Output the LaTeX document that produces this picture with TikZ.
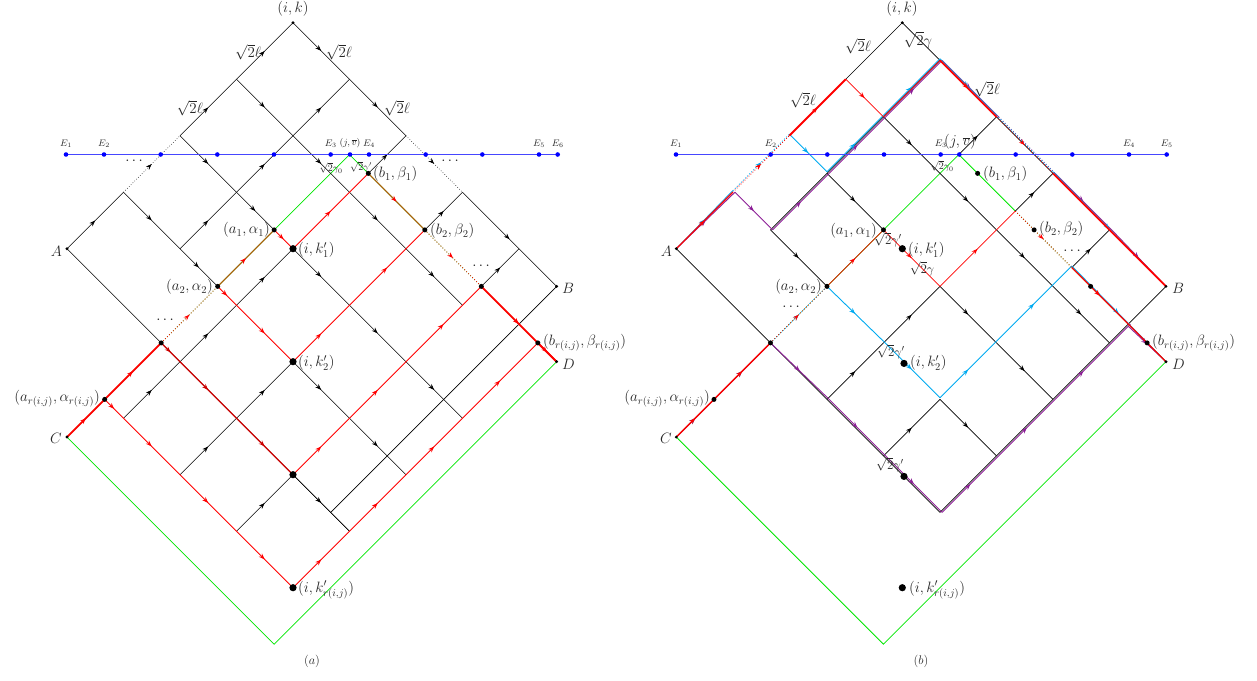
\RequirePackage{fix-cm}
\documentclass[tikz,border=0pt]{standalone}
\usetikzlibrary{arrows.meta,decorations.markings}
\definecolor{grn}{RGB}{0,230,0}
\definecolor{brn}{RGB}{175,90,10}
\definecolor{cy}{RGB}{0,170,240}
\definecolor{pu}{RGB}{140,30,150}
\definecolor{eblue}{RGB}{70,70,255}
\tikzset{
 bl/.style={black,line width=0.6pt},
 mk/.style={postaction={decorate,decoration={markings,mark=at position 0.5 with {\arrow{Stealth[length=6pt,width=4.5pt,inset=2pt]}}}}},
 mkr/.style={postaction={decorate,decoration={markings,mark=at position 0.5 with {\arrow[red]{Stealth[length=6pt,width=4.5pt,inset=2pt]}}}}},
 rd/.style={red,line width=0.8pt},
 rdm/.style={red,line width=1.3pt},
 rdd/.style={red!80!black,line width=1.2pt},
 rdk/.style={red,line width=1.8pt},
 gr/.style={grn,line width=0.8pt},
 brw/.style={brn,line width=1pt},
 cyl/.style={cy,line width=0.9pt,shift={(0pt,1.6pt)}},
 pul/.style={pu,line width=0.9pt,shift={(2.2pt,0pt)}},
 pud/.style={pu,line width=0.9pt,shift={(0pt,-2.2pt)}},
 grs/.style={grn,line width=0.8pt,shift={(-0.7pt,0.7pt)}},
 lab/.style={text=black!85,font=\fontsize{15}{18}\selectfont,inner sep=1pt},
 mlab/.style={text=black!85,font=\fontsize{13}{15}\selectfont,inner sep=0.5pt},
 slab/.style={text=black!85,font=\fontsize{10}{12}\selectfont,inner sep=1pt},
 clab/.style={text=black!85,font=\fontsize{12.5}{14}\selectfont,inner sep=1pt},
 elab/.style={text=black!85,font=\fontsize{9.5}{11}\selectfont,inner sep=1pt},
}
\begin{document}
\begin{tikzpicture}[x=1pt,y=1pt]
\useasboundingbox (0,0) rectangle (1257,-680);

% ===================== LEFT (a) =====================
\begin{scope}[shift={(293pt,-22.7pt)},x={(56.5pt,-56.5pt)},y={(-56.5pt,-56.5pt)}]
\coordinate (Lik) at (0,0);
\coordinate (LA) at (0,4);
\coordinate (LB) at (4.667,0);
\coordinate (LC) at (1.667,5.667);
\coordinate (LD) at (5.333,0.667);
\coordinate (LE) at (5.333,5.667);
\coordinate (Ljv) at (1.667,0.667);
\coordinate (La1) at (1.667,2);
\coordinate (La2) at (1.667,3);
\coordinate (La3) at (1.667,4);
\coordinate (Lar) at (1.667,5);
\coordinate (Lb1) at (2,0.667);
\coordinate (Lb2) at (3,0.667);
\coordinate (Lb3) at (4,0.667);
\coordinate (Lbr) at (5,0.667);
\coordinate (Lk1) at (2,2);
\coordinate (Lk2) at (3,3);
\coordinate (Lk3) at (4,4);
\coordinate (Lkr) at (5,5);
% green
\draw[gr] (LC) -- (La3);
\draw[gr,dotted] (La3) -- (La2);
\draw[gr] (La2) -- (Ljv) -- (Lb2);
\draw[gr,dotted] (Lb2) -- (Lb3);
\draw[gr] (Lb3) -- (LD) -- (LE) -- (LC);
% black lattice
\draw[bl,mk] (LA) -- (0,3);
\draw[bl,mk,dotted] (0,3) -- (0,2);
\draw[bl,mk] (0,2) -- (0,1);
\draw[bl,mk] (0,1) -- (Lik);
\foreach \a/\b in {3/2,2/1,1/0} \draw[bl,mk] (1,\a) -- (1,\b);
\foreach \a/\b in {5/4,4/3,3/2} \draw[bl,mk] (2,\a) -- (2,\b);
\foreach \a/\b in {5/4,4/3} \draw[bl,mk] (3,\a) -- (3,\b);
\draw[bl,mk] (4,5) -- (4,4);
\draw[bl,mk] (Lb1) -- (2,0);
\draw[bl,mk] (Lb2) -- (3,0);
\draw[bl,mk] (Lb3) -- (4,0);
\draw[bl] (4.667,4) -- (LB);
\draw[bl,mk] (Lik) -- (1,0);
\draw[bl,mk] (1,0) -- (2,0);
\draw[bl,mk,dotted] (2,0) -- (3,0);
\draw[bl,mk] (3,0) -- (LB);
\foreach \a/\b in {0/1,1/2,2/3,3/4} \draw[bl,mk] (\a,1) -- (\b,1);
\draw[bl,mk] (0,2) -- (1,2);
\draw[bl,mk] (1,2) -- (La1);
\foreach \a/\b in {2/3,3/4,4/5} \draw[bl,mk] (\a,2) -- (\b,2);
\draw[bl,mk] (0,3) -- (1,3);
\draw[bl,mk] (1,3) -- (La2);
\foreach \a/\b in {3/4,4/5} \draw[bl,mk] (\a,3) -- (\b,3);
\draw[bl] (LA) -- (5,4);
\draw[bl,mk] (4,4) -- (5,4);
% red
\draw[rdk,mk] (LC) -- (Lar);
\draw[rdk,mk] (Lar) -- (La3);
\draw[rd,mk,dotted] (La3) -- (La2);
\draw[brw,mkr] (La2) -- (La1);
\draw[brw,mkr] (Lb1) -- (Lb2);
\draw[rd,mk,dotted] (Lb2) -- (Lb3);
\draw[rdk,mk] (Lb3) -- (LD);
\draw[rdk,mk] (Lbr) -- (LD);
\draw[rd,mk] (La1) -- (Lk1);
\draw[rd,mk] (Lk1) -- (Lb1);
\draw[rd,mk] (La2) -- (2,3);
\draw[rd,mk] (2,3) -- (Lk2);
\draw[rd,mk] (Lk2) -- (3,2);
\draw[rd,mk] (3,2) -- (Lb2);
\draw[rdd,mk] (La3) -- (2,4);
\draw[rdd,mk] (2,4) -- (3,4);
\draw[rdd,mk] (3,4) -- (Lk3);
\draw[rd,mk] (Lk3) -- (4,3);
\draw[rd,mk] (4,3) -- (4,2);
\draw[rd,mk] (4,2) -- (Lb3);
\draw[rd,mk] (Lar) -- (2,5);
\draw[rd,mk] (2,5) -- (3,5);
\draw[rd,mk] (3,5) -- (4,5);
\draw[rd,mk] (4,5) -- (Lkr);
\draw[rd,mk] (Lkr) -- (5,4);
\draw[rd,mk] (5,4) -- (5,3);
\draw[rd,mk] (5,3) -- (5,2);
\draw[rd,mk] (5,2) -- (Lbr);
% dots
\foreach \p in {Lik,LA,LB,LC,LD} \fill (\p) circle[radius=1.6pt];
\foreach \p in {La1,La2,La3,Lar,Lb1,Lb2,Lb3,Lbr} \fill (\p) circle[radius=2.5pt];
\foreach \p in {Lk1,Lk2,Lk3,Lkr} \fill (\p) circle[radius=3.6pt];
\end{scope}

% E line left
\draw[eblue,line width=1.5pt] (66,-154.5) -- (557.7,-154.5);
\foreach \x in {66,104,160.7,217.3,274,330.7,350,369,425.7,482.3,539,557.7} \fill[blue] (\x,-154.5) circle[radius=2.3pt];
\node[elab] (lE1) at (66,-144) {$E_1$};
\node[elab] (lE2) at (104,-144) {$E_2$};
\node[elab] (lE3) at (330.7,-144) {$E_3$};
\node[elab] (ljv) at (350,-143) {$(j,\overline{v})$};
\node[elab] (lE4) at (369,-144) {$E_4$};
\node[elab] (lE5) at (539,-144) {$E_5$};
\node[elab] (lE6) at (557.7,-144) {$E_6$};
% labels left
\node[lab] (tLik) at (293,-9) {$(i,k)$};
\node[lab] (tl1) at (248,-52) {$\sqrt{2}\ell$};
\node[lab] (tl2) at (339,-52) {$\sqrt{2}\ell$};
\node[lab] (tl3) at (190,-108) {$\sqrt{2}\ell$};
\node[lab] (tl4) at (397,-108) {$\sqrt{2}\ell$};
\node[lab] (td1) at (134,-161) {$\cdots$};
\node[lab] (td2) at (450,-161) {$\cdots$};
\node[lab] (td3) at (165,-320) {$\cdots$};
\node[lab] (td4) at (481,-266) {$\cdots$};
\node[slab] (tg0) at (331,-168) {$\sqrt{2}\gamma_0$};
\node[slab] (tgp) at (361,-167) {$\sqrt{2}\gamma'$};
\node[lab,anchor=west] (tLb1) at (372,-174) {$(b_1,\beta_1)$};
\node[lab,anchor=east] (tLa1) at (271,-230) {$(a_1,\alpha_1)$};
\node[lab,anchor=west] (tLk1) at (297,-250) {$(i,k_1')$};
\node[lab,anchor=west] (tLb2) at (429,-231) {$(b_2,\beta_2)$};
\node[lab,anchor=east] (tLa2) at (214,-287) {$(a_2,\alpha_2)$};
\node[lab,anchor=west] (tLk2) at (297,-363) {$(i,k_2')$};
\node[lab,anchor=west] (tLbr) at (542,-343) {$(b_{r(i,j)},\beta_{r(i,j)})$};
\node[lab,anchor=east] (tLar) at (101,-399) {$(a_{r(i,j)},\alpha_{r(i,j)})$};
\node[lab,anchor=west] (tLkr) at (297,-590) {$(i,k'_{r(i,j)})$};
\node[lab,anchor=east] (tLA) at (63,-251) {$A$};
\node[lab,anchor=west] (tLB) at (561,-288) {$B$};
\node[lab,anchor=east] (tLC) at (63,-438) {$C$};
\node[lab,anchor=west] (tLD) at (561,-364) {$D$};
\node[clab] (tcapa) at (312,-661) {$(a)$};

% ===================== RIGHT (b) =====================
\begin{scope}[shift={(902.3pt,-22.7pt)},x={(56.5pt,-56.5pt)},y={(-56.5pt,-56.5pt)}]
\coordinate (Rik) at (0,0);
\coordinate (RA) at (0,4);
\coordinate (RB) at (4.667,0);
\coordinate (RC) at (1.667,5.667);
\coordinate (RD) at (5.333,0.667);
\coordinate (RE) at (5.333,5.667);
\coordinate (Rjv) at (1.667,0.667);
\coordinate (Ra1) at (1.667,2);
\coordinate (Ra2) at (1.667,3);
\coordinate (Ra3) at (1.667,4);
\coordinate (Rar) at (1.667,5);
\coordinate (Rb1) at (2,0.667);
\coordinate (Rb2) at (3,0.667);
\coordinate (Rb3) at (4,0.667);
\coordinate (Rbr) at (5,0.667);
\coordinate (Rk1) at (2,2);
\coordinate (Rk2) at (3.03,3);
\coordinate (Rk3) at (4.03,4);
\coordinate (Rkr) at (5,5);
% green
\draw[grs] (RC) -- (Ra3);
\draw[grs,dotted] (Ra3) -- (Ra2);
\draw[grs] (Ra2) -- (Ra1);
\draw[gr] (Ra1) -- (Rjv) -- (2.667,0.667);
\draw[gr,dotted] (2.667,0.667) -- (3.667,0.667);
\draw[gr] (3.667,0.667) -- (RD) -- (RE) -- (RC);
% black lattice
\draw[bl] (Rik) -- (0,1);
\draw[bl] (Rik) -- (0.667,0);
\draw[bl] (0.667,0) -- (RB);
\draw[bl] (0.667,0) -- (0.667,3);
\foreach \a/\b in {0.667/1.667,1.667/2.667,2.667/3.667,3.667/4.667} \draw[bl,mk] (\a,1) -- (\b,1);
\draw[bl,mk] (0.667,2) -- (1.667,2);
\foreach \a/\b in {2.667/3.667,3.667/4.667} \draw[bl,mk] (\a,2) -- (\b,2);
\draw[bl,mk] (0.667,3) -- (1.667,3);
\draw[bl,mk] (3.667,3) -- (4.667,3);
\draw[bl] (RA) -- (4.667,4);
\draw[bl,mk] (1.667,0.667) -- (1.667,0);
\draw[bl,mk] (2.667,4) -- (2.667,3);
\draw[bl,mk] (2.667,3) -- (2.667,2);
\draw[bl,mk] (2.667,0.667) -- (2.667,0);
\draw[bl,mk] (3.667,4) -- (3.667,3);
\draw[bl,mk] (3.667,0.667) -- (3.667,0);
\draw[bl] (4.667,4) -- (RB);
% purple
\draw[pul,mk] (RA) -- (0,3);
\draw[pul,mk] (0,3) -- (0.667,3);
\draw[pul,mk] (0.667,3) -- (0.667,2);
\draw[pul,mk] (0.667,2) -- (0.667,1);
\draw[pul,mk] (0.667,1) -- (0.667,0);
\draw[pul,mk] (0.667,0) -- (1.667,0);
\draw[pul,dotted] (1.667,0) -- (2.667,0);
\draw[pul,mk] (2.667,0) -- (3.667,0);
\draw[pul,mk] (3.667,0) -- (RB);
\draw[pul,mk] (RC) -- (Rar);
\draw[pul,mk] (Rar) -- (Ra3);
\draw[pul,mk] (Ra3) -- (2.667,4);
\draw[pul,mk] (2.667,4) -- (3.667,4);
\draw[pul,mk] (3.667,4) -- (4.667,4);
\draw[pul,mk] (4.667,4) -- (4.667,3);
\draw[pul,mk] (4.667,3) -- (4.667,2);
\draw[pul,mk] (4.667,2) -- (4.667,1);
\draw[pul] (4.667,1) -- (4.667,0.667);
\draw[pud,mk] (4.667,0.667) -- (RD);
% cyan
\draw[cyl,mk] (RA) -- (0,3);
\draw[cyl,mk,dotted] (0,3) -- (0,2);
\draw[cyl,mk] (0,2) -- (0.667,2);
\draw[cyl,mk] (0.667,2) -- (0.667,1);
\draw[cyl,mk] (0.667,1) -- (0.667,0);
\draw[cyl,mk] (0.667,0) -- (1.667,0);
\draw[cyl,dotted] (1.667,0) -- (2.667,0);
\draw[cyl,mk] (2.667,0) -- (RB);
\draw[cyl,mk] (RC) -- (Rar);
\draw[cyl,mk] (Rar) -- (Ra3);
\draw[cyl,mk,dotted] (Ra3) -- (Ra2);
\draw[cyl,mk] (Ra2) -- (2.667,3);
\draw[cyl,mk] (2.667,3) -- (3.667,3);
\draw[cyl,mk] (3.667,3) -- (3.667,2);
\draw[cyl,mk] (3.667,2) -- (3.667,0.667);
\draw[cyl,mk] (3.667,0.667) -- (RD);
% red
\draw[rdm,mk] (RA) -- (0,3);
\draw[rd,mk,dotted] (0,3) -- (0,2);
\draw[rdk,mk] (0,2) -- (0,1);
\draw[rd,mk] (0,1) -- (0.667,1);
\draw[rd] (0.667,1) -- (0.667,0);
\draw[rdk,mk] (0.667,0) -- (1.667,0);
\draw[rd,mk,dotted] (1.667,0) -- (2.667,0);
\draw[rdk] (2.667,0) -- (RB);
\draw[rdm,mk] (RC) -- (Rar);
\draw[rdm,mk] (Rar) -- (Ra3);
\draw[rd,mk,dotted] (Ra3) -- (Ra2);
\draw[rd,mk] (Ra2) -- (Ra1);
\draw[rd,mk] (Ra1) -- (2.667,2);
\draw[rd,mk] (2.667,2) -- (2.667,0.667);
\draw[rd,mk,dotted] (2.667,0.667) -- (3.667,0.667);
\draw[rdm,mk] (3.667,0.667) -- (4.667,0.667);
\draw[rdm] (4.667,0.667) -- (RD);
% dots
\foreach \p in {Rik,RA,RB,RC,RD} \fill (\p) circle[radius=1.6pt];
\foreach \p in {Ra1,Ra2,Ra3,Rar,Rb1,Rb2,Rb3,Rbr} \fill (\p) circle[radius=2.5pt];
\foreach \p in {Rk1,Rk2,Rk3,Rkr} \fill (\p) circle[radius=3.6pt];
\end{scope}

% E line right
\draw[eblue,line width=1.5pt] (676,-154.5) -- (1166.7,-154.5);
\foreach \x in {676,770.7,827.3,884,940.7,959.3,1015.7,1072.3,1129,1166.7} \fill[blue] (\x,-154.5) circle[radius=2.3pt];
\node[elab] (rE1) at (676,-144) {$E_1$};
\node[elab] (rE2) at (770.7,-144) {$E_2$};
\node[elab] (rE3) at (940.7,-144) {$E_3$};
\node[lab] (rjv) at (960,-142) {$(j,\overline{v})$};
\node[elab] (rE4) at (1129,-144) {$E_4$};
\node[elab] (rE5) at (1166.7,-144) {$E_5$};
% labels right
\node[lab] (tRik) at (902,-9) {$(i,k)$};
\node[lab] (tr1) at (858,-46) {$\sqrt{2}\ell$};
\node[lab] (tr2) at (918,-40) {$\sqrt{2}\gamma$};
\node[lab] (tr3) at (803,-100) {$\sqrt{2}\ell$};
\node[lab] (tr4) at (987,-89) {$\sqrt{2}\ell$};
\node[slab] (trg0) at (942,-166) {$\sqrt{2}\gamma_0$};
\node[lab,anchor=west] (tRb1) at (982,-174) {$(b_1,\beta_1)$};
\node[lab,anchor=west] (tRb2) at (1038,-229) {$(b_2,\beta_2)$};
\node[lab,anchor=west] (tRbr) at (1151,-343) {$(b_{r(i,j)},\beta_{r(i,j)})$};
\node[lab,anchor=east] (tRa1) at (878,-231) {$(a_1,\alpha_1)$};
\node[mlab] (trgp1) at (888,-240) {$\sqrt{2}\gamma'$};
\node[lab,anchor=west] (tRk1) at (907,-250) {$(i,k_1')$};
\node[mlab] (trg1) at (922,-269) {$\sqrt{2}\gamma$};
\node[lab,anchor=east] (tRa2) at (823,-287) {$(a_2,\alpha_2)$};
\node[lab] (trd1) at (791,-307) {$\cdots$};
\node[mlab] (trgp2) at (891,-352) {$\sqrt{2}\gamma'$};
\node[lab,anchor=west] (tRk2) at (909,-363) {$(i,k_2')$};
\node[lab,anchor=east] (tRar) at (711,-399) {$(a_{r(i,j)},\alpha_{r(i,j)})$};
\node[mlab] (trgp3) at (890,-465) {$\sqrt{2}\gamma'$};
\node[lab,anchor=west] (tRkr) at (908,-590) {$(i,k'_{r(i,j)})$};
\node[lab] (trd2) at (1072,-251) {$\cdots$};
\node[lab,anchor=east] (tRA) at (673,-251) {$A$};
\node[lab,anchor=west] (tRB) at (1171,-288) {$B$};
\node[lab,anchor=east] (tRC) at (673,-438) {$C$};
\node[lab,anchor=west] (tRD) at (1171,-364) {$D$};
\node[clab] (tcapb) at (921,-661) {$(b)$};
\end{tikzpicture}
\end{document}
